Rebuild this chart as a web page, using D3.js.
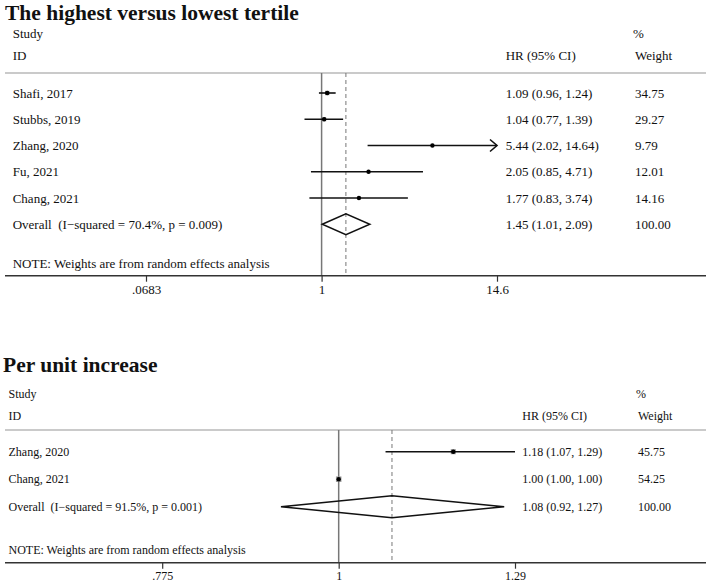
<!DOCTYPE html>
<html>
<head>
<meta charset="utf-8">
<script src="https://cdn.jsdelivr.net/npm/d3@7"></script>
<style>
  html, body { margin: 0; padding: 0; background: #fff; }
  svg { display: block; }
  text { font-family: "Liberation Serif", "Times New Roman", serif; fill: #111; white-space: pre; }
</style>
</head>
<body>
<svg id="chart" width="708" height="585"></svg>
<script>
// ---------- Panel 1 data ----------
const topTitle = "The highest versus lowest tertile";
const topStudies = ["Shafi, 2017", "Stubbs, 2019", "Zhang, 2020", "Fu, 2021", "Chang, 2021"];
const topHR = [1.09, 1.04, 5.44, 2.05, 1.77];
const topLo = [0.96, 0.77, 2.02, 0.85, 0.83];
const topHi = [1.24, 1.39, 14.64, 4.71, 3.74];
const topWeights = [34.75, 29.27, 9.79, 12.01, 14.16];
const topOverall = [1.45, 1.01, 2.09];
const topOverallLabel = "Overall  (I\u2212squared = 70.4%, p = 0.009)";
const topTicks = [0.0683, 1, 14.6];
const topTickLabels = [".0683", "1", "14.6"];

// ---------- Panel 2 data ----------
const botTitle = "Per unit increase";
const botStudies = ["Zhang, 2020", "Chang, 2021"];
const botHR = [1.18, 1.00];
const botLo = [1.07, 1.00];
const botHi = [1.29, 1.00];
const botWeights = [45.75, 54.25];
const botOverall = [1.08, 0.92, 1.27];
const botOverallLabel = "Overall  (I\u2212squared = 91.5%, p = 0.001)";
const botTicks = [0.775, 1, 1.29];
const botTickLabels = [".775", "1", "1.29"];

const noteText = "NOTE: Weights are from random effects analysis";

const svg = d3.select("#chart");

function fmt(v) { return v.toFixed(2); }

function drawPanel(cfg, d) {
  const g = svg.append("g");
  const fs = cfg.fontSize;
  const n = d.studies.length;

  const x = d3.scaleLog().domain([d.ticks[0], d.ticks[d.ticks.length - 1]]).range(cfg.xRange);
  const y = d3.scaleLinear().domain([0, 1]).range([cfg.rowY0, cfg.rowY0 + cfg.rowStep]);

  // title
  g.append("text").attr("x", cfg.titleX).attr("y", cfg.titleBase)
    .attr("font-size", 21.5).attr("font-weight", "bold").text(d.title);

  // headers
  const hdr = (tx, ty, s) => g.append("text").attr("x", tx).attr("y", ty).attr("dy", "0.35em")
    .attr("font-size", fs).text(s);
  hdr(cfg.textX, cfg.studyY, "Study");
  hdr(cfg.textX, cfg.idY, "ID");
  hdr(cfg.hrX, cfg.idY, "HR (95% CI)");
  hdr(cfg.wX - 2, cfg.studyY, "%");
  hdr(cfg.wX, cfg.idY, "Weight");

  // separator
  g.append("line").attr("x1", 5).attr("x2", 706).attr("y1", cfg.sepY).attr("y2", cfg.sepY)
    .attr("stroke", "#b8b8b8").attr("stroke-width", 1.5);

  // null line
  g.append("line").attr("x1", x(1)).attr("x2", x(1)).attr("y1", cfg.sepY).attr("y2", cfg.axisY)
    .attr("stroke", "#777").attr("stroke-width", 1.5);
  // overall dashed line
  g.append("line").attr("x1", x(d.overall[0])).attr("x2", x(d.overall[0]))
    .attr("y1", cfg.sepY).attr("y2", cfg.axisY)
    .attr("stroke", "#777").attr("stroke-width", 1).attr("stroke-dasharray", "4,3");

  const xMax = d.ticks[d.ticks.length - 1], xMin = d.ticks[0];
  d.studies.forEach((s, i) => {
    const yy = y(i);
    g.append("text").attr("x", cfg.textX).attr("y", yy).attr("dy", "0.35em").attr("font-size", fs).text(s);
    g.append("text").attr("x", cfg.hrX).attr("y", yy).attr("dy", "0.35em").attr("font-size", fs)
      .text(`${fmt(d.hr[i])} (${fmt(d.lo[i])}, ${fmt(d.hi[i])})`);
    g.append("text").attr("x", cfg.wX).attr("y", yy).attr("dy", "0.35em").attr("font-size", fs)
      .text(fmt(d.weights[i]));

    // weight box
    const side = 0.75 * Math.sqrt(d.weights[i]);
    g.append("rect").attr("x", x(d.hr[i]) - side / 2).attr("y", yy - side / 2)
      .attr("width", side).attr("height", side).attr("fill", "#9a9a9a");

    const lo = Math.max(d.lo[i], xMin), hi = Math.min(d.hi[i], xMax);
    if (d.hi[i] > d.lo[i]) {
      g.append("line").attr("x1", x(lo)).attr("x2", x(hi)).attr("y1", yy).attr("y2", yy)
        .attr("stroke", "#111").attr("stroke-width", 1.6);
    }
    if (d.hi[i] > xMax) {
      g.append("path")
        .attr("d", `M${x(xMax) - 7},${yy - 6}L${x(xMax)},${yy}L${x(xMax) - 7},${yy + 6}`)
        .attr("fill", "none").attr("stroke", "#111").attr("stroke-width", 1.6);
    }
    g.append("circle").attr("cx", x(d.hr[i])).attr("cy", yy).attr("r", 2.2).attr("fill", "#000");
  });

  // overall
  const yo = y(n);
  g.append("text").attr("x", cfg.textX).attr("y", yo).attr("dy", "0.35em").attr("font-size", fs).text(d.overallLabel);
  g.append("text").attr("x", cfg.hrX).attr("y", yo).attr("dy", "0.35em").attr("font-size", fs)
    .text(`${fmt(d.overall[0])} (${fmt(d.overall[1])}, ${fmt(d.overall[2])})`);
  g.append("text").attr("x", cfg.wX).attr("y", yo).attr("dy", "0.35em").attr("font-size", fs).text("100.00");
  const hh = cfg.diamondHalf;
  g.append("path")
    .attr("d", `M${x(d.overall[1])},${yo}L${x(d.overall[0])},${yo - hh}L${x(d.overall[2])},${yo}L${x(d.overall[0])},${yo + hh}Z`)
    .attr("fill", "none").attr("stroke", "#111").attr("stroke-width", 1.5);

  // note
  g.append("text").attr("x", cfg.textX).attr("y", cfg.noteY).attr("dy", "0.35em").attr("font-size", fs).text(noteText);

  // axis
  g.append("line").attr("x1", 5).attr("x2", 706).attr("y1", cfg.axisY).attr("y2", cfg.axisY)
    .attr("stroke", "#333").attr("stroke-width", 1.5);
  const axis = d3.axisBottom(x).tickValues(d.ticks)
    .tickFormat((v, i) => d.tickLabels[i]).tickSize(6).tickPadding(3);
  const ag = g.append("g").attr("transform", `translate(0,${cfg.axisY})`).call(axis);
  ag.select(".domain").remove();
  ag.selectAll(".tick line").attr("stroke", "#333").attr("stroke-width", 1.2);
  ag.selectAll(".tick text").attr("font-size", fs).attr("font-family", "Liberation Serif, serif").attr("fill", "#111");
}

drawPanel({
  fontSize: 13, titleX: 5, titleBase: 19.5, textX: 12.7, hrX: 505.7, wX: 635,
  studyY: 33, idY: 55, sepY: 73, rowY0: 93, rowStep: 26.25, noteY: 263.3, axisY: 275.7,
  xRange: [146, 497], diamondHalf: 10.5
}, {
  title: topTitle, studies: topStudies, hr: topHR, lo: topLo, hi: topHi, weights: topWeights,
  overall: topOverall, overallLabel: topOverallLabel, ticks: topTicks, tickLabels: topTickLabels
});

drawPanel({
  fontSize: 12, titleX: 3, titleBase: 371.7, textX: 8.5, hrX: 522.3, wX: 638,
  studyY: 394, idY: 416, sepY: 430, rowY0: 451.7, rowStep: 27.5, noteY: 550, axisY: 562.7,
  xRange: [162.2, 515], diamondHalf: 11
}, {
  title: botTitle, studies: botStudies, hr: botHR, lo: botLo, hi: botHi, weights: botWeights,
  overall: botOverall, overallLabel: botOverallLabel, ticks: botTicks, tickLabels: botTickLabels
});
</script>
</body>
</html>
